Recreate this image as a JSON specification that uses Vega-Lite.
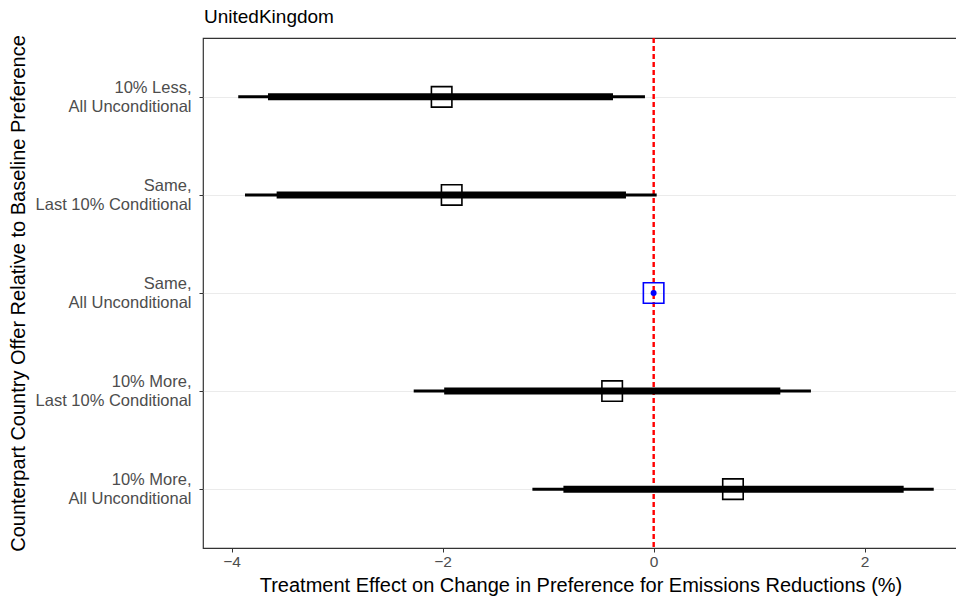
{
  "$schema": "https://vega.github.io/schema/vega-lite/v6.json",
  "width": 755,
  "height": 510,
  "autosize": {"type": "none"},
  "padding": {"left": 203, "top": 38, "right": 0, "bottom": 55},
  "background": "white",
  "title": {"text": "UnitedKingdom", "anchor": "start", "frame": "group", "font": "Liberation Sans", "fontSize": 19, "fontWeight": "normal", "color": "black", "offset": 8, "dx": 1},
  "config": {
    "view": {"stroke": "#333333", "strokeWidth": 1.2},
    "axis": {"labelFont": "Liberation Sans", "titleFont": "Liberation Sans", "labelColor": "#4D4D4D", "titleColor": "black", "titleFontWeight": "normal", "tickColor": "#333333", "domain": false, "gridColor": "#EBEBEB", "gridWidth": 1}
  },
  "data": {"values": [
    {"label": "10% Less,|All Unconditional", "est": -2.009, "lo95": -3.937, "hi95": -0.082, "lo90": -3.655, "hi90": -0.385, "base": false},
    {"label": "Same,|Last 10% Conditional", "est": -1.914, "lo95": -3.873, "hi95": 0.029, "lo90": -3.573, "hi90": -0.262, "base": false},
    {"label": "Same,|All Unconditional", "est": 0, "lo95": 0, "hi95": 0, "lo90": 0, "hi90": 0, "base": true},
    {"label": "10% More,|Last 10% Conditional", "est": -0.393, "lo95": -2.274, "hi95": 1.491, "lo90": -1.985, "hi90": 1.201, "base": false},
    {"label": "10% More,|All Unconditional", "est": 0.752, "lo95": -1.149, "hi95": 2.655, "lo90": -0.855, "hi90": 2.37, "base": false}
  ]},
  "encoding": {
    "y": {"field": "label", "type": "nominal",
      "sort": ["10% Less,|All Unconditional", "Same,|Last 10% Conditional", "Same,|All Unconditional", "10% More,|Last 10% Conditional", "10% More,|All Unconditional"],
      "scale": {"type": "point", "padding": 0.6},
      "axis": {"title": "Counterpart Country Offer Relative to Baseline Preference", "titleFontSize": 20, "titlePadding": 7, "labelFontSize": 16.5, "labelLineHeight": 19.5, "labelOffset": -9.75, "labelExpr": "split(datum.label, '|')", "tickSize": 4, "labelPadding": 8, "grid": true}}
  },
  "layer": [
    {
      "mark": {"type": "rule", "color": "#FF0000", "strokeWidth": 1.5, "strokeDash": [5, 3]},
      "encoding": {"x": {"datum": 0, "type": "quantitative"}, "y": null}
    },
    {
      "transform": [{"filter": "!datum.base"}],
      "mark": {"type": "rule", "color": "black", "strokeWidth": 3},
      "encoding": {
        "x": {"field": "lo95", "type": "quantitative",
          "scale": {"domain": [-4.271, 2.885], "nice": false, "zero": false},
          "axis": {"title": "Treatment Effect on Change in Preference for Emissions Reductions (%)", "titleFontSize": 20, "titlePadding": 6, "labelFontSize": 15.5, "tickSize": 4, "labelPadding": 2,
            "values": [-4, -3, -2, -1, 0, 1, 2],
            "labelExpr": "datum.value % 2 == 0 ? format(datum.value, 'd') : ''",
            "tickOpacity": {"condition": {"test": "datum.value % 2 != 0", "value": 0}, "value": 1},
            "gridWidth": {"condition": {"test": "datum.value % 2 != 0", "value": 0.7}, "value": 1.1}}},
        "x2": {"field": "hi95"}
      }
    },
    {
      "transform": [{"filter": "!datum.base"}],
      "mark": {"type": "rule", "color": "black", "strokeWidth": 7},
      "encoding": {
        "x": {"field": "lo90", "type": "quantitative"},
        "x2": {"field": "hi90"}
      }
    },
    {
      "transform": [{"filter": "!datum.base"}],
      "mark": {"type": "point", "shape": "square", "filled": false, "color": "black", "strokeWidth": 1.6, "size": 420, "opacity": 1},
      "encoding": {"x": {"field": "est", "type": "quantitative"}}
    },
    {
      "transform": [{"filter": "datum.base"}],
      "mark": {"type": "point", "shape": "square", "filled": false, "color": "#0000FF", "strokeWidth": 1.6, "size": 420, "opacity": 1},
      "encoding": {"x": {"field": "est", "type": "quantitative"}}
    },
    {
      "transform": [{"filter": "datum.base"}],
      "mark": {"type": "point", "shape": "circle", "filled": true, "color": "#0000FF", "size": 36, "opacity": 1},
      "encoding": {"x": {"field": "est", "type": "quantitative"}}
    }
  ]
}
